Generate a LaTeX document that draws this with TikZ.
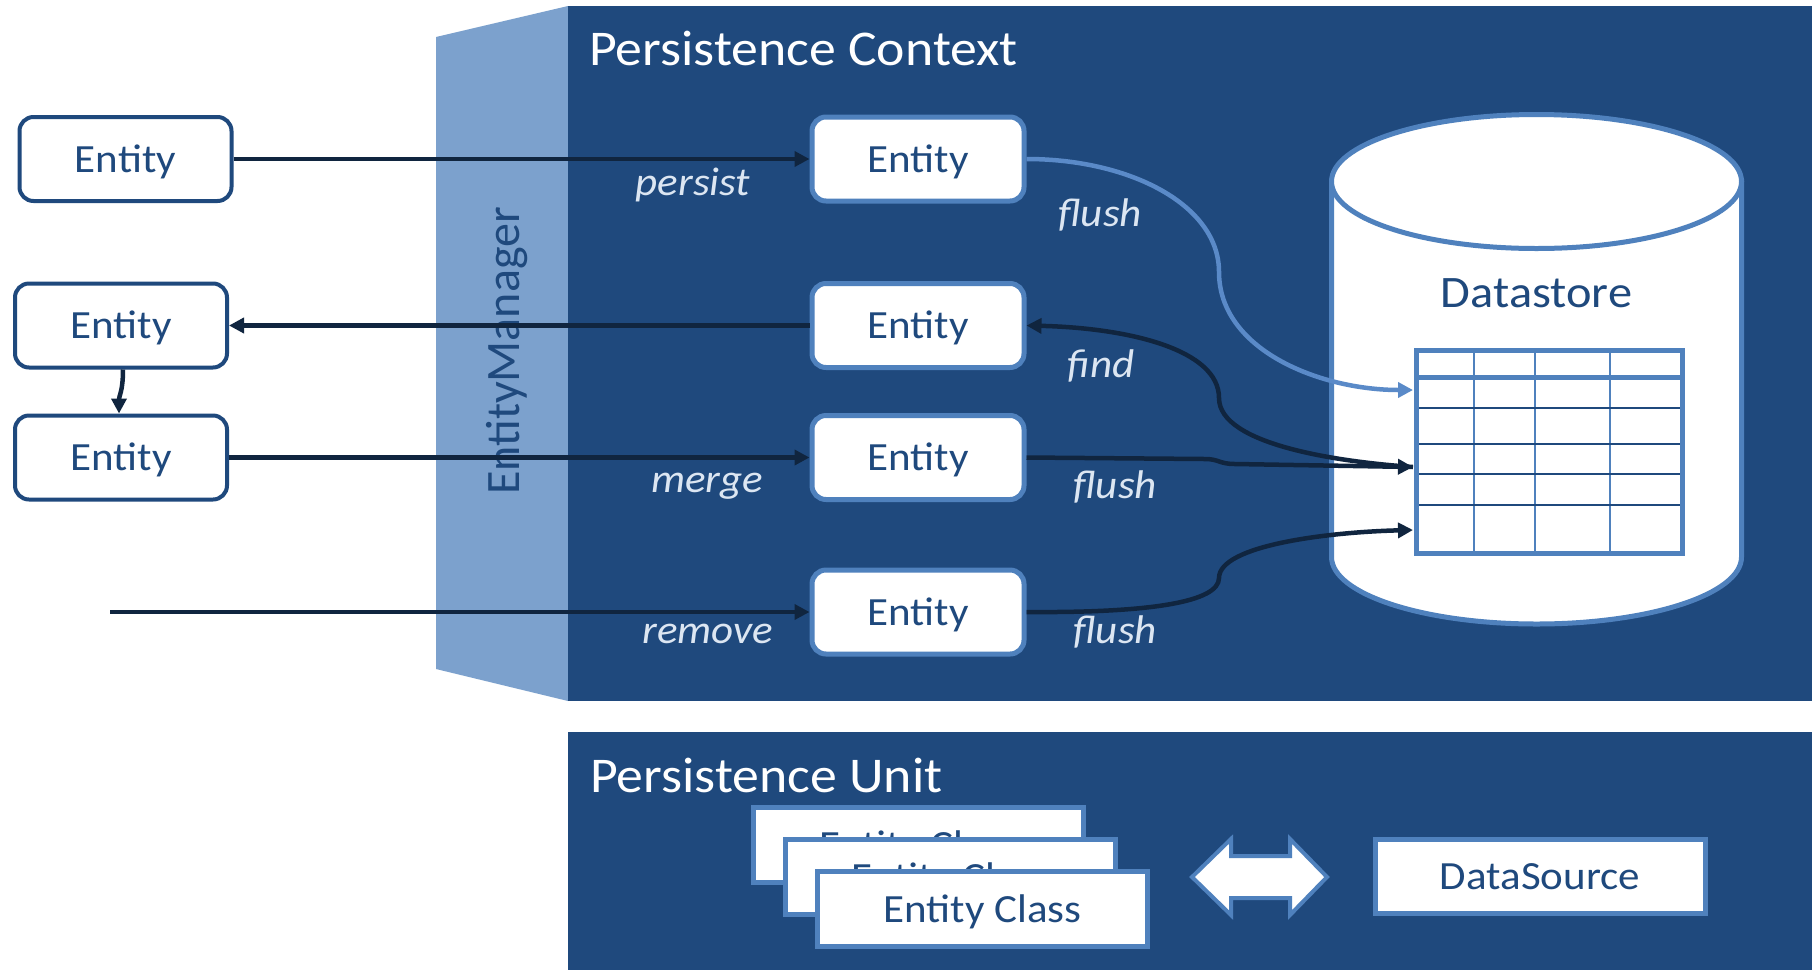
\documentclass[tikz,border=0pt]{standalone}
\usepackage{fontspec}
\setmainfont{Carlito}[FakeStretch=1.075]
\newfontfamily\emfont{Carlito}
\usetikzlibrary{arrows.meta}
\definecolor{pcbg}{HTML}{1F497D}
\definecolor{empanel}{HTML}{7CA1CD}
\definecolor{lblue}{HTML}{4F81BD}
\definecolor{flushc}{HTML}{5A8AC8}
\definecolor{arrowdark}{HTML}{10253F}
\definecolor{lbltxt}{HTML}{DCE6F2}
\begin{document}
\begin{tikzpicture}[x=1pt,y=-1pt,
  every node/.style={inner sep=0pt},
  entbox/.style={draw, fill=white, rounded corners=14pt, minimum width=212pt, minimum height=84pt,
    text height=26pt, text depth=0pt, text=pcbg, font=\fontsize{40}{48}\selectfont},
  leftent/.style={entbox, draw=pcbg, line width=4pt},
  inent/.style={entbox, draw=lblue, line width=5pt},
  classbox/.style={draw=lblue, fill=white, line width=5pt, minimum width=330pt, minimum height=75pt,
    text height=26pt, text depth=0pt, text=pcbg, font=\fontsize{40}{48}\selectfont},
  lbl/.style={font=\itshape\fontsize{40}{48}\selectfont, text=lbltxt, anchor=base},
  title/.style={font=\fontsize{50}{60}\selectfont, text=white, anchor=base west},
  dconn/.style={draw=arrowdark, line width=4.5pt, line join=round, -{Triangle[length=15pt,width=15pt]}},
  fconn/.style={draw=flushc, line width=4.5pt, line join=round, -{Triangle[length=15pt,width=15pt]}}
]
\useasboundingbox (0,0) rectangle (1819,970);
\fill[white] (0,0) rectangle (1819,970);

% EntityManager panel and persistence context
\fill[empanel] (436,37) -- (568,6) -- (568,701) -- (436,669) -- cycle;
\fill[pcbg] (568,6) rectangle (1812,701);
\node[title] (pctitle) at (589,65) {Persistence Context};
\node[rotate=90, anchor=base, font=\emfont\fontsize{48}{58}\selectfont, text=pcbg] (emtxt) at (519,351) {EntityManager};

% Persistence unit
\fill[pcbg] (568,732) rectangle (1812,970);
\node[title] (putitle) at (590,792) {Persistence Unit};

% Datastore cylinder
\path[draw=lblue, line width=5pt, fill=white] (1331.5,181.5) -- (1331.5,557)
  arc[start angle=180, end angle=0, x radius=205, y radius=67] -- (1741.5,181.5) -- cycle;
\path[draw=lblue, line width=5pt, fill=white] (1536.5,181.5) ellipse [x radius=205, y radius=67];
\node[font=\fontsize{45}{54}\selectfont, text=pcbg, anchor=base] (dstxt) at (1536.5,307) {Datastore};

% table
\foreach \x in {1474,1535,1610} \draw[lblue, line width=2pt] (\x,348) -- (\x,556);
\draw[lblue, line width=5pt] (1414,377) -- (1685,377);
\foreach \y in {408,444,474,505} \draw[pcbg, line width=2pt] (1414,\y) -- (1685,\y);
\node[draw=lblue, line width=5pt, minimum width=266pt, minimum height=203pt] (tbl) at (1549.5,452) {};
\coordinate (t1) at (1413,390);
\coordinate (t2) at (1413,467);
\coordinate (t3) at (1413,530);

% entity boxes
\node[leftent] (le1) at (125.5,159) {Entity};
\node[leftent] (le2) at (121,325.5) {Entity};
\node[leftent] (le3) at (121,457.5) {Entity};
\node[inent] (ie1) at (918,159) {Entity};
\node[inent] (ie2) at (918,325.5) {Entity};
\node[inent] (ie3) at (918,457.5) {Entity};
\node[inent] (ie4) at (918,612) {Entity};
\coordinate (rs) at (110,612);

% connectors
\draw[dconn] (le1.east) -- (ie1.west);
\draw[dconn] (ie2.west) -- (le2.east);
\draw[dconn] ([xshift=2pt]le2.south) .. controls +(0,22) and +(0,-18) .. ([xshift=-2pt]le3.north);
\draw[dconn] (le3.east) -- (ie3.west);
\draw[dconn] (rs) -- (ie4.west);

\draw[fconn] (ie1.east) .. controls (1130,159) and (1219,205) .. (1219,272)
  .. controls (1219,350) and (1320,390) .. (t1);
\draw[dconn] (t2) .. controls (1340,462) and (1219,445) .. (1219,398)
  .. controls (1219,350) and (1130,328) .. (ie2.east);
\draw[dconn] (ie3.east) -- (1205,459) .. controls (1219,459) and (1219,464) .. (1235,464) -- (t2);
\draw[dconn] (ie4.east) .. controls (1150,613) and (1219,602) .. (1219,578)
  .. controls (1219,545) and (1330,532) .. (t3);

% labels
\node[lbl] (lpersist) at (693,195) {persist};
\node[lbl] (lflush1) at (1100,226) {flush};
\node[lbl] (lfind) at (1101,377) {find};
\node[lbl] (lmerge) at (707,492) {merge};
\node[lbl] (lflush2) at (1115,498) {flush};
\node[lbl] (lremove) at (708,643) {remove};
\node[lbl] (lflush3) at (1115,643) {flush};

% persistence unit content
\node[classbox] (ec1) at (918.5,845) {Entity Class};
\node[classbox] (ec2) at (950.5,877) {Entity Class};
\node[classbox] (ec3) at (982.5,909) {Entity Class};
\node[classbox, minimum width=330pt, minimum height=74pt] (dsrc) at (1540,876) {DataSource};
\path[draw=lblue, fill=white, line width=4pt, line join=miter] (1192,877) -- (1231,839) -- (1231,856) -- (1290,856)
  -- (1290,839) -- (1327,877) -- (1290,915) -- (1290,898) -- (1231,898) -- (1231,915) -- cycle;
\end{tikzpicture}
\end{document}
